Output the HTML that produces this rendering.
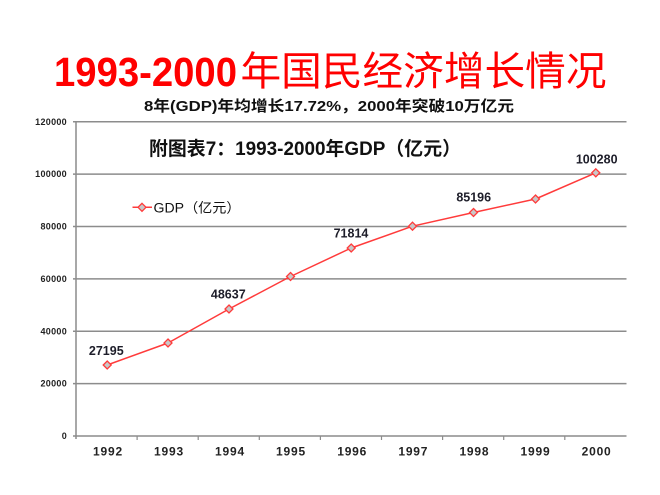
<!DOCTYPE html>
<html>
<head>
<meta charset="utf-8">
<style>
  html, body { margin: 0; padding: 0; background: #ffffff; }
  body { width: 660px; height: 495px; overflow: hidden; }
  svg { display: block; }
</style>
</head>
<body>
<svg width="660" height="495" viewBox="0 0 660 495" xmlns="http://www.w3.org/2000/svg">
  <rect x="0" y="0" width="660" height="495" fill="#ffffff"/>

  <!-- Main title -->
  <text x="54" y="86" font-family="'Liberation Sans', Arial, sans-serif" font-weight="bold" font-size="41" fill="#ff0000" textLength="183" lengthAdjust="spacingAndGlyphs">1993-2000</text>
  <text x="240.5" y="85" font-family="'Liberation Sans', 'Noto Sans CJK SC', sans-serif" font-weight="normal" font-size="40" fill="#ff0000" textLength="366" lengthAdjust="spacingAndGlyphs">年国民经济增长情况</text>

  <!-- Subtitle -->
  <text x="144" y="111" font-family="'Liberation Sans', 'Noto Sans CJK SC', sans-serif" font-weight="bold" font-size="15" fill="#111111" textLength="370" lengthAdjust="spacingAndGlyphs">8年(GDP)年均增长17.72%，2000年突破10万亿元</text>

  <!-- Gridlines -->
  <g stroke="#8c8c8c" stroke-width="1.5">
    <line x1="73" y1="121.7" x2="626.5" y2="121.7"/>
    <line x1="73" y1="174.1" x2="626.5" y2="174.1"/>
    <line x1="73" y1="226.5" x2="626.5" y2="226.5"/>
    <line x1="73" y1="278.9" x2="626.5" y2="278.9"/>
    <line x1="73" y1="331.2" x2="626.5" y2="331.2"/>
    <line x1="73" y1="383.6" x2="626.5" y2="383.6"/>
    <line x1="73" y1="436" x2="626.5" y2="436"/>
    <!-- y axis -->
    <line x1="76" y1="121" x2="76" y2="439"/>
  </g>
  <!-- x ticks -->
  <g stroke="#8c8c8c" stroke-width="1.2">
    <line x1="137.1" y1="436" x2="137.1" y2="440"/>
    <line x1="198.2" y1="436" x2="198.2" y2="440"/>
    <line x1="259.3" y1="436" x2="259.3" y2="440"/>
    <line x1="320.4" y1="436" x2="320.4" y2="440"/>
    <line x1="381.5" y1="436" x2="381.5" y2="440"/>
    <line x1="442.6" y1="436" x2="442.6" y2="440"/>
    <line x1="503.7" y1="436" x2="503.7" y2="440"/>
    <line x1="564.8" y1="436" x2="564.8" y2="440"/>
  </g>

  <!-- Y tick labels -->
  <g font-family="'Liberation Sans', Arial, sans-serif" font-weight="bold" font-size="9" fill="#222222" text-anchor="end" letter-spacing="0.3">
    <text x="67" y="124.8">120000</text>
    <text x="67" y="177.2">100000</text>
    <text x="67" y="229.6">80000</text>
    <text x="67" y="282">60000</text>
    <text x="67" y="334.3">40000</text>
    <text x="67" y="386.7">20000</text>
    <text x="67" y="439.1">0</text>
  </g>

  <!-- X tick labels -->
  <g font-family="'Liberation Sans', Arial, sans-serif" font-weight="bold" font-size="12" fill="#222222" text-anchor="middle" letter-spacing="0.8">
    <text x="108" y="455.5">1992</text>
    <text x="169" y="455.5">1993</text>
    <text x="230" y="455.5">1994</text>
    <text x="291" y="455.5">1995</text>
    <text x="352.2" y="455.5">1996</text>
    <text x="413.3" y="455.5">1997</text>
    <text x="474.4" y="455.5">1998</text>
    <text x="535.5" y="455.5">1999</text>
    <text x="596.6" y="455.5">2000</text>
  </g>

  <!-- Chart title -->
  <text x="149" y="155" font-family="'Liberation Sans', 'Noto Sans CJK SC', sans-serif" font-weight="bold" font-size="19" fill="#111111" textLength="312" lengthAdjust="spacingAndGlyphs">附图表7：1993-2000年GDP（亿元）</text>

  <!-- Legend -->
  <line x1="132.5" y1="207.3" x2="152" y2="207.3" stroke="#ff3b3b" stroke-width="1.5"/>
  <polygon points="142,203.3 146,207.3 142,211.3 138,207.3" fill="#c8c8c8" stroke="#ff3b3b" stroke-width="1.3"/>
  <text x="153.5" y="212.5" font-family="'Liberation Sans', 'Noto Sans CJK SC', sans-serif" font-size="13.5" fill="#111111" textLength="87" lengthAdjust="spacingAndGlyphs">GDP（亿元）</text>

  <!-- Series line -->
  <polyline fill="none" stroke="#ff3b3b" stroke-width="1.5" stroke-linejoin="round"
    points="107.2,365 168,343 229,309 290.5,276.5 351.2,248 412.5,226.2 473.5,212.5 535.5,199 595.8,172.8"/>

  <!-- Markers -->
  <g fill="#c8c8c8" stroke="#ff3b3b" stroke-width="1.3">
    <polygon points="107.2,361 111.2,365 107.2,369 103.2,365"/>
    <polygon points="168,339 172,343 168,347 164,343"/>
    <polygon points="229,305 233,309 229,313 225,309"/>
    <polygon points="290.5,272.5 294.5,276.5 290.5,280.5 286.5,276.5"/>
    <polygon points="351.2,244 355.2,248 351.2,252 347.2,248"/>
    <polygon points="412.5,222.2 416.5,226.2 412.5,230.2 408.5,226.2"/>
    <polygon points="473.5,208.5 477.5,212.5 473.5,216.5 469.5,212.5"/>
    <polygon points="535.5,195 539.5,199 535.5,203 531.5,199"/>
    <polygon points="595.8,168.8 599.8,172.8 595.8,176.8 591.8,172.8"/>
  </g>

  <!-- Data labels -->
  <g font-family="'Liberation Sans', Arial, sans-serif" font-weight="bold" font-size="12.5" fill="#1e1e2a" text-anchor="middle">
    <text x="106.3" y="355">27195</text>
    <text x="228.3" y="298.5">48637</text>
    <text x="351" y="237.5">71814</text>
    <text x="473.7" y="201.7">85196</text>
    <text x="596.7" y="163.3">100280</text>
  </g>
</svg>
</body>
</html>
